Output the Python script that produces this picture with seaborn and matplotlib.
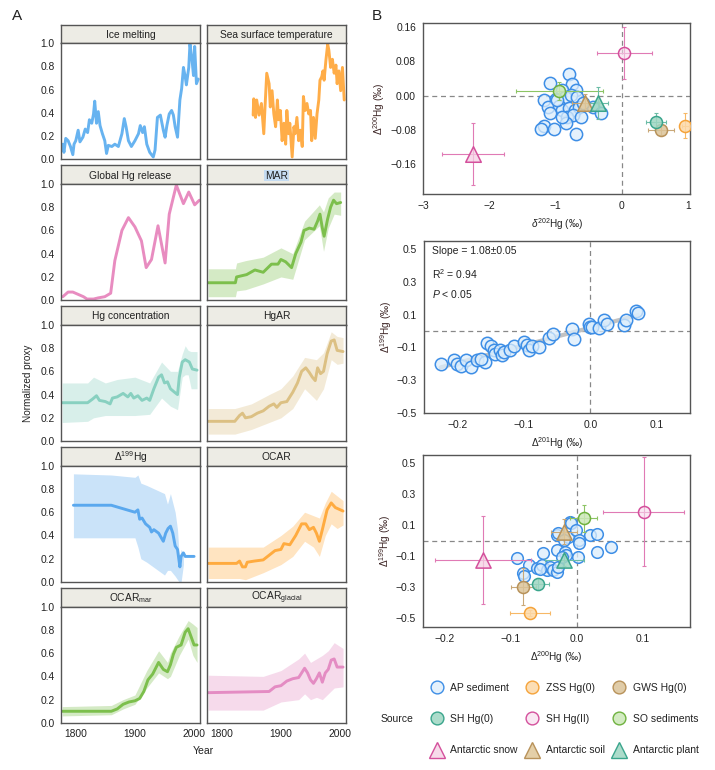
import numpy as np
import pandas as pd
import seaborn as sns
import matplotlib
matplotlib.use("Agg")
import matplotlib.pyplot as plt
from matplotlib.lines import Line2D

sns.set_theme(style="white")
plt.rcParams["font.family"] = ["Liberation Sans", "DejaVu Sans"]
plt.rcParams["mathtext.fontset"] = "custom"
plt.rcParams["mathtext.rm"] = "Liberation Sans"
plt.rcParams["mathtext.it"] = "Liberation Sans:italic"
plt.rcParams["mathtext.bf"] = "Liberation Sans:bold"
plt.rcParams["axes.unicode_minus"] = True

# ---------------- Panel A data ----------------
ice_year = [1778, 1780, 1783, 1787, 1791, 1795, 1797, 1800, 1804, 1807, 1812, 1816, 1820, 1823, 1827, 1830,
            1832, 1835, 1838, 1841, 1845, 1849, 1852, 1855, 1861, 1866, 1872, 1878, 1882, 1885, 1889, 1894,
            1900, 1906, 1909, 1913, 1916, 1920, 1925, 1931, 1934, 1938, 1943, 1948, 1951, 1954, 1958, 1962,
            1965, 1968, 1972, 1976, 1979, 1982, 1985, 1987, 1991, 1993, 1996, 1999, 2001, 2004, 2007]
ice_val = [0.13, 0.06, 0.18, 0.16, 0.11, 0.04, 0.13, 0.16, 0.25, 0.15, 0.19, 0.26, 0.23, 0.34, 0.31, 0.39,
           0.50, 0.31, 0.41, 0.29, 0.22, 0.16, 0.05, 0.12, 0.11, 0.13, 0.11, 0.22, 0.35, 0.28, 0.16, 0.11,
           0.16, 0.22, 0.29, 0.23, 0.28, 0.13, 0.06, 0.02, 0.08, 0.36, 0.38, 0.25, 0.19, 0.29, 0.39, 0.42,
           0.38, 0.28, 0.19, 0.51, 0.61, 0.79, 0.71, 0.64, 0.79, 0.99, 0.88, 0.72, 0.97, 0.65, 0.69]

sst_year = [1853, 1854, 1857, 1859, 1863, 1867, 1871, 1873, 1876, 1880, 1882, 1885, 1888, 1891, 1894, 1896,
            1899, 1902, 1905, 1908, 1910, 1913, 1915, 1919, 1922, 1924, 1927, 1930, 1933, 1936, 1938, 1941,
            1944, 1947, 1950, 1952, 1955, 1958, 1961, 1964, 1966, 1969, 1971, 1973, 1976, 1979, 1981, 1984,
            1987, 1990, 1993, 1995, 1998, 2001, 2004, 2007]
sst_val = [0.38, 0.52, 0.36, 0.51, 0.38, 0.48, 0.22, 0.44, 0.74, 0.65, 0.45, 0.59, 0.39, 0.28, 0.51, 0.34,
           0.42, 0.16, 0.31, 0.13, 0.42, 0.22, 0.31, 0.02, 0.28, 0.22, 0.36, 0.16, 0.25, 0.11, 0.54, 0.42,
           0.48, 0.39, 0.42, 0.16, 0.36, 0.18, 0.39, 0.51, 0.68, 0.71, 0.76, 0.68, 0.85, 0.99, 0.94, 0.79,
           0.86, 0.74, 0.81, 0.65, 0.76, 0.59, 0.79, 0.51]

ghg_year = [1778, 1787, 1795, 1804, 1813, 1819, 1830, 1838, 1849, 1859, 1866, 1878, 1889, 1900, 1911, 1919,
            1928, 1939, 1951, 1958, 1970, 1982, 1991, 2001, 2009]
ghg_val = [0.03, 0.07, 0.07, 0.05, 0.03, 0.01, 0.01, 0.02, 0.03, 0.06, 0.34, 0.60, 0.71, 0.63, 0.51, 0.28,
           0.35, 0.64, 0.32, 0.74, 0.99, 0.83, 0.93, 0.82, 0.86]

mar_year = [1777, 1823, 1825, 1842, 1856, 1870, 1884, 1895, 1900, 1908, 1918, 1925, 1934, 1939, 1948, 1956,
            1962, 1966, 1970, 1973, 1979, 1984, 1989, 1994, 2001]
mar_val = [0.15, 0.15, 0.20, 0.22, 0.26, 0.24, 0.31, 0.31, 0.35, 0.33, 0.28, 0.40, 0.50, 0.60, 0.62, 0.61,
           0.68, 0.74, 0.62, 0.55, 0.70, 0.80, 0.86, 0.83, 0.84]
mar_band_year = [1777, 1823, 1825, 1840, 1870, 1900, 1920, 1940, 1965, 1972, 1980, 1990, 2001]
mar_lo = [0.03, 0.03, 0.08, 0.09, 0.14, 0.20, 0.18, 0.52, 0.64, 0.42, 0.62, 0.74, 0.73]
mar_hi = [0.27, 0.27, 0.32, 0.34, 0.37, 0.45, 0.40, 0.68, 0.82, 0.76, 0.88, 0.93, 0.93]

hgc_year = [1777, 1820, 1828, 1835, 1840, 1850, 1858, 1862, 1870, 1880, 1888, 1893, 1898, 1905, 1912, 1920,
            1925, 1932, 1940, 1945, 1950, 1955, 1960, 1967, 1972, 1975, 1980, 1985, 1992, 1997, 2005]
hgc_val = [0.33, 0.33, 0.36, 0.39, 0.35, 0.34, 0.32, 0.37, 0.38, 0.41, 0.38, 0.41, 0.37, 0.39, 0.35, 0.37,
           0.35, 0.45, 0.55, 0.57, 0.50, 0.51, 0.45, 0.42, 0.40, 0.55, 0.68, 0.70, 0.68, 0.62, 0.61]
hgc_band_year = [1777, 1820, 1830, 1850, 1870, 1900, 1925, 1945, 1960, 1972, 1980, 1985, 1990, 1995, 2005]
hgc_lo = [0.16, 0.17, 0.20, 0.22, 0.22, 0.22, 0.23, 0.37, 0.30, 0.27, 0.55, 0.57, 0.57, 0.45, 0.45]
hgc_hi = [0.50, 0.50, 0.55, 0.50, 0.53, 0.55, 0.50, 0.68, 0.60, 0.60, 0.75, 0.82, 0.78, 0.77, 0.77]

hgar_year = [1777, 1822, 1830, 1835, 1840, 1850, 1860, 1870, 1880, 1888, 1893, 1900, 1910, 1920, 1928, 1935,
             1942, 1948, 1953, 1958, 1962, 1967, 1972, 1978, 1985, 1990, 1995, 2005]
hgar_val = [0.17, 0.17, 0.22, 0.24, 0.20, 0.21, 0.24, 0.26, 0.30, 0.32, 0.29, 0.33, 0.34, 0.42, 0.50, 0.60,
            0.63, 0.59, 0.55, 0.52, 0.63, 0.58, 0.60, 0.75, 0.86, 0.87, 0.78, 0.77]
hgar_band_year = [1777, 1822, 1850, 1880, 1900, 1920, 1940, 1960, 1972, 1985, 1995, 2005]
hgar_lo = [0.06, 0.06, 0.10, 0.16, 0.20, 0.28, 0.45, 0.35, 0.45, 0.70, 0.66, 0.67]
hgar_hi = [0.28, 0.28, 0.32, 0.40, 0.45, 0.56, 0.72, 0.70, 0.76, 0.94, 0.90, 0.89]

d199_year = [1796, 1860, 1880, 1900, 1905, 1908, 1912, 1918, 1925, 1928, 1932, 1940, 1948, 1952, 1956, 1960,
             1964, 1968, 1972, 1976, 1978, 1982, 1985, 2000]
d199_val = [0.66, 0.66, 0.63, 0.60, 0.62, 0.54, 0.55, 0.50, 0.47, 0.43, 0.45, 0.42, 0.35, 0.42, 0.46, 0.48,
            0.42, 0.31, 0.28, 0.13, 0.22, 0.25, 0.22, 0.22]
d199_band_year = [1796, 1860, 1900, 1905, 1910, 1920, 1950, 1955, 1960, 1968, 1972, 1975, 1978, 1982]
d199_lo = [0.38, 0.38, 0.38, 0.30, 0.20, 0.17, 0.06, 0.10, 0.10, 0.05, 0.02, 0.00, 0.00, 0.15]
d199_hi = [0.93, 0.92, 0.90, 0.92, 0.85, 0.83, 0.76, 0.67, 0.76, 0.60, 0.45, 0.20, 0.28, 0.25]

ocar_year = [1777, 1825, 1830, 1835, 1840, 1843, 1855, 1870, 1880, 1890, 1900, 1905, 1915, 1925, 1935, 1942,
             1948, 1955, 1960, 1965, 1970, 1978, 1985, 1992, 2005]
ocar_val = [0.16, 0.16, 0.18, 0.13, 0.13, 0.17, 0.18, 0.19, 0.23, 0.27, 0.28, 0.33, 0.32, 0.40, 0.50, 0.50,
            0.45, 0.47, 0.42, 0.35, 0.45, 0.62, 0.68, 0.64, 0.61]
ocar_band_year = [1777, 1830, 1840, 1870, 1900, 1920, 1940, 1955, 1965, 1975, 1985, 1995, 2005]
ocar_lo = [0.03, 0.03, 0.02, 0.08, 0.15, 0.22, 0.35, 0.30, 0.22, 0.40, 0.50, 0.46, 0.49]
ocar_hi = [0.30, 0.30, 0.30, 0.30, 0.40, 0.48, 0.60, 0.57, 0.55, 0.68, 0.78, 0.74, 0.70]

ocm_year = [1777, 1860, 1870, 1880, 1890, 1900, 1908, 1915, 1922, 1930, 1940, 1948, 1955, 1960, 1965, 1970,
            1978, 1985, 1990, 1995, 2000, 2005]
ocm_val = [0.10, 0.10, 0.12, 0.16, 0.18, 0.19, 0.21, 0.27, 0.37, 0.42, 0.52, 0.46, 0.44, 0.50, 0.59, 0.65,
           0.67, 0.78, 0.81, 0.74, 0.67, 0.67]
ocm_band_year = [1777, 1860, 1880, 1900, 1920, 1940, 1955, 1960, 1975, 1990, 1998, 2005]
ocm_lo = [0.06, 0.07, 0.12, 0.16, 0.30, 0.43, 0.38, 0.40, 0.58, 0.72, 0.58, 0.52]
ocm_hi = [0.14, 0.15, 0.20, 0.24, 0.45, 0.62, 0.52, 0.60, 0.75, 0.88, 0.85, 0.82]

ocg_year = [1777, 1880, 1890, 1900, 1910, 1920, 1930, 1940, 1945, 1950, 1955, 1960, 1965, 1970, 1975, 1980,
            1985, 1990, 1995, 2005]
ocg_val = [0.26, 0.27, 0.31, 0.32, 0.36, 0.38, 0.39, 0.47, 0.43, 0.37, 0.34, 0.38, 0.43, 0.35, 0.43, 0.46,
           0.54, 0.55, 0.48, 0.48]
ocg_band_year = [1777, 1870, 1900, 1930, 1940, 1950, 1960, 1970, 1980, 1990, 2005]
ocg_lo = [0.11, 0.11, 0.18, 0.20, 0.25, 0.20, 0.22, 0.20, 0.25, 0.30, 0.31]
ocg_hi = [0.41, 0.40, 0.45, 0.55, 0.60, 0.52, 0.55, 0.58, 0.62, 0.69, 0.64]

panel_titles = ["Ice melting", "Sea surface temperature", "Global Hg release", "MAR",
                "Hg concentration", "HgAR", r"$\Delta^{199}$Hg", "OCAR",
                r"OCAR$_{\mathrm{mar}}$", r"OCAR$_{\mathrm{glacial}}$"]
year_ticks = [1800, 1900, 2000]
proxy_ticks = [0.0, 0.2, 0.4, 0.6, 0.8, 1.0]

# ---------------- Panel B data ----------------
ap_d202 = [-0.80, -1.08, -0.75, -0.90, -0.69, -1.17, -1.00, -0.85, -0.77, -0.67, -1.12, -0.95, -0.90, -0.80,
           -0.71, -0.64, -1.08, -0.83, -0.74, -0.61, -0.44, -0.32, -1.17, -1.22, -1.02, -0.84, -0.69, -0.90,
           -0.59, -0.97]
ap_d200_top = [0.050, 0.030, 0.028, 0.014, 0.013, -0.009, -0.007, -0.004, 0.001, -0.003, -0.027, -0.024,
               -0.034, -0.030, -0.034, -0.026, -0.041, -0.050, -0.045, -0.049, -0.026, -0.040, -0.070, -0.079,
               -0.079, -0.063, -0.090, -0.049, -0.018, -0.010]

ap_d201 = [-0.225, -0.205, -0.200, -0.195, -0.187, -0.180, -0.170, -0.158, -0.156, -0.150, -0.145, -0.143,
           -0.136, -0.133, -0.130, -0.120, -0.114, -0.100, -0.095, -0.0925, -0.0875, -0.0775, -0.0625, -0.056,
           -0.0275, -0.025, -0.0025, -0.001, 0.0025, 0.0125, 0.020, 0.025, 0.050, 0.0535, 0.069, 0.0715, -0.165]
ap_d199_mid = [-0.199, -0.174, -0.199, -0.213, -0.178, -0.219, -0.174, -0.188, -0.072, -0.093, -0.117, -0.137,
               -0.113, -0.148, -0.127, -0.117, -0.093, -0.066, -0.087, -0.117, -0.093, -0.100, -0.040, -0.015,
               0.015, -0.046, 0.042, 0.025, 0.025, 0.021, 0.066, 0.046, 0.036, 0.066, 0.123, 0.111, -0.168]

ap_d200 = [-0.091, -0.073, -0.082, -0.080, -0.061, -0.053, -0.051, -0.046, -0.041, -0.036, -0.030, -0.029,
           -0.030, -0.031, -0.028, -0.018, -0.016, -0.011, -0.009, -0.013, -0.001, 0.0025, 0.0025, 0.001,
           0.020, 0.031, 0.030, 0.051, -0.023, -0.056, -0.020]
ap_d199 = [-0.115, -0.157, -0.211, -0.228, -0.179, -0.157, -0.082, -0.190, -0.168, -0.190, -0.200, -0.168,
           -0.061, 0.035, 0.046, -0.072, -0.093, 0.121, 0.110, 0.025, 0.067, 0.003, -0.018, -0.104,
           0.035, 0.042, -0.072, -0.040, -0.104, -0.185, 0.003]

src_names = ["ZSS Hg(0)", "GWS Hg(0)", "SH Hg(0)", "SH Hg(II)", "SO sediments",
             "Antarctic snow", "Antarctic soil", "Antarctic plant"]
src_top_x = [0.96, 0.59, 0.52, 0.04, -0.94, -2.25, -0.55, -0.36]
src_top_y = [-0.070, -0.080, -0.061, 0.100, 0.011, -0.136, -0.017, -0.017]
src_top_xerr = [0.05, 0.20, 0.15, 0.41, 0.65, 0.47, 0.20, 0.15]
src_top_yerr = [0.030, 0.012, 0.020, 0.060, 0.020, 0.072, 0.020, 0.038]
src_bot_x = [-0.071, -0.081, -0.059, 0.101, 0.010, -0.142, -0.020, -0.019]
src_bot_y = [-0.468, -0.297, -0.279, 0.185, 0.142, -0.125, 0.057, -0.125]
src_bot_xerr = [0.030, 0.019, 0.017, 0.061, 0.020, 0.073, 0.020, 0.030]
src_bot_yerr = [0.020, 0.120, 0.040, 0.350, 0.085, 0.280, 0.080, 0.040]

# ---------------- styles ----------------
W, H = 715, 770
fig = plt.figure(figsize=(W / 100, H / 100), dpi=100)


def box(x0, y0, x1, y1):
    return [x0 / W, 1 - y1 / H, (x1 - x0) / W, (y1 - y0) / H]


FR = "#555555"
TXT = "#222222"

a_series = [
    (ice_year, ice_val, "#67b3f0", None),
    (sst_year, sst_val, "#ffad48", None),
    (ghg_year, ghg_val, "#e88cc0", None),
    (mar_year, mar_val, "#7cbf4c", (mar_band_year, mar_lo, mar_hi)),
    (hgc_year, hgc_val, "#88d0c0", (hgc_band_year, hgc_lo, hgc_hi)),
    (hgar_year, hgar_val, "#dcc083", (hgar_band_year, hgar_lo, hgar_hi)),
    (d199_year, d199_val, "#5aa8ee", (d199_band_year, d199_lo, d199_hi)),
    (ocar_year, ocar_val, "#ffab3f", (ocar_band_year, ocar_lo, ocar_hi)),
    (ocm_year, ocm_val, "#7cbf4c", (ocm_band_year, ocm_lo, ocm_hi)),
    (ocg_year, ocg_val, "#e48cc3", (ocg_band_year, ocg_lo, ocg_hi)),
]

cols = [(61, 200), (207, 346)]
for k, (yr, vals, col, band) in enumerate(a_series):
    i, j = divmod(k, 2)
    top = 43 + i * 140.9
    bot = top + 116.3
    x0, x1 = cols[j]
    sax = fig.add_axes(box(x0, top - 18.5, x1, top))
    sax.set_facecolor("#edece5")
    sax.set_xticks([]); sax.set_yticks([])
    for s in sax.spines.values():
        s.set_color(FR); s.set_linewidth(1)
    tkw = dict(ha="center", va="center", fontsize=7.4, color=TXT, transform=sax.transAxes)
    if panel_titles[k] == "MAR":
        tkw["bbox"] = dict(facecolor="#c5dcf2", edgecolor="none", pad=0.6)
    sax.text(0.5, 0.45, panel_titles[k], **tkw)

    ax = fig.add_axes(box(x0, top, x1, bot))
    if band is not None:
        ax.fill_between(band[0], band[1], band[2], color=col, alpha=0.32, linewidth=0)
    df = pd.DataFrame({"Year": yr, "v": vals})
    sns.lineplot(data=df, x="Year", y="v", ax=ax, color=col, linewidth=2.1)
    ax.set_xlim(1775, 2010)
    ax.set_ylim(0, 1.0)
    ax.set_xlabel(""); ax.set_ylabel("")
    for s in ax.spines.values():
        s.set_color(FR); s.set_linewidth(1)
    ax.set_xticks(year_ticks)
    ax.set_yticks(proxy_ticks)
    ax.tick_params(axis="both", direction="out", length=3, width=0.8, color="#333333",
                   labelsize=7.4, labelcolor=TXT, pad=1.5)
    if i < 4:
        ax.tick_params(axis="x", bottom=False, labelbottom=False)
    if j == 1:
        ax.tick_params(axis="y", left=False, labelleft=False)
    else:
        ax.set_yticklabels([f"{t:.1f}" for t in proxy_ticks])

fig.text(12 / W, 1 - 16 / H, "A", fontsize=11, color=TXT, ha="left", va="center")
fig.text(372 / W, 1 - 16 / H, "B", fontsize=11, color=TXT, ha="left", va="center")
fig.text(28 / W, 1 - 383 / H, "Normalized proxy", rotation=90, fontsize=7.2, color=TXT,
         ha="center", va="center")
fig.text(203 / W, 1 - 751 / H, "Year", fontsize=7.5, color=TXT, ha="center", va="center")

# ---------------- Panel B ----------------
AP_EDGE = "#3d8ee6"
AP_FACE = (0.86, 0.93, 0.99, 0.75)
src_edge = ["#f5a33a", "#b8925a", "#3aa58c", "#d4509c", "#6fb23f", "#d4509c", "#b8925a", "#3aa58c"]
src_face = [(0.99, 0.85, 0.66, 0.85), (0.86, 0.77, 0.60, 0.85), (0.62, 0.84, 0.76, 0.85),
            (0.97, 0.85, 0.92, 0.6), (0.80, 0.91, 0.72, 0.85), (0.96, 0.81, 0.89, 0.75),
            (0.88, 0.78, 0.60, 0.85), (0.62, 0.84, 0.76, 0.85)]
src_err = ["#f7b866", "#c9a878", "#6cbca6", "#e07ab5", "#8cc464", "#e07ab5", "#c9a878", "#6cbca6"]
src_marker = ["o", "o", "o", "o", "o", "^", "^", "^"]


def style_b(ax):
    for s in ax.spines.values():
        s.set_color(FR); s.set_linewidth(1)
    ax.tick_params(axis="both", direction="out", length=3, width=0.8, color="#333333",
                   labelsize=7.4, labelcolor=TXT, pad=2)
    ax.axhline(0, color="#888888", lw=0.9, ls=(0, (4, 3)), zorder=0)
    ax.axvline(0, color="#888888", lw=0.9, ls=(0, (4, 3)), zorder=0)


def draw_sources(ax, xs, ys, xe, ye, s_circ, s_tri):
    for n in range(len(src_names)):
        ax.errorbar(xs[n], ys[n], xerr=xe[n], yerr=ye[n], fmt="none", ecolor=src_err[n],
                    elinewidth=0.8, capsize=1.5, capthick=0.8, zorder=3)
        sns.scatterplot(x=[xs[n]], y=[ys[n]], ax=ax, marker=src_marker[n],
                        s=(s_tri if src_marker[n] == "^" else s_circ),
                        color=src_face[n], edgecolor=src_edge[n], linewidth=1.1, zorder=4)


# top
ax1 = fig.add_axes(box(423, 23, 690, 194))
style_b(ax1)
sns.scatterplot(x=ap_d202, y=ap_d200_top, ax=ax1, s=78, color=AP_FACE, edgecolor=AP_EDGE,
                linewidth=1.1, zorder=2)
draw_sources(ax1, src_top_x, src_top_y, src_top_xerr, src_top_yerr, 75, 125)
ax1.set_xlim(-3, 1.03)
ax1.set_ylim(-0.23, 0.17)
ax1.set_xticks([-3, -2, -1, 0, 1])
ax1.set_yticks([-0.16, -0.08, 0.0, 0.08, 0.16])
ax1.set_xlabel(r"$\delta^{202}$Hg (‰)", fontsize=7.2, color=TXT)
ax1.set_ylabel(r"$\Delta^{200}$Hg (‰)", fontsize=7.2, color="#3a2222", labelpad=2)

# middle
ax2 = fig.add_axes(box(424, 241, 690, 413))
style_b(ax2)
sns.regplot(x=np.array(ap_d201), y=np.array(ap_d199_mid), ax=ax2, scatter=False, ci=None,
            line_kws=dict(color="#c2c2c2", lw=3.0, zorder=1))
sns.scatterplot(x=ap_d201, y=ap_d199_mid, ax=ax2, s=80, color=AP_FACE, edgecolor=AP_EDGE,
                linewidth=1.1, zorder=2)
ax2.set_xlim(-0.25, 0.15)
ax2.set_ylim(-0.5, 0.55)
ax2.set_xticks([-0.2, -0.1, 0.0, 0.1])
ax2.set_yticks([-0.5, -0.3, -0.1, 0.1, 0.3, 0.5])
ax2.set_xlabel(r"$\Delta^{201}$Hg (‰)", fontsize=7.2, color=TXT)
ax2.set_ylabel(r"$\Delta^{199}$Hg (‰)", fontsize=7.2, color="#3a2222", labelpad=2)
ax2.text(0.03, 0.94, "Slope = 1.08±0.05", transform=ax2.transAxes, fontsize=7.5, color=TXT,
         ha="left", va="center")
ax2.text(0.03, 0.81, r"R$^2$ = 0.94", transform=ax2.transAxes, fontsize=7.5, color=TXT,
         ha="left", va="center")
ax2.text(0.03, 0.69, r"$P$ < 0.05", transform=ax2.transAxes, fontsize=7.5, color=TXT,
         ha="left", va="center")

# bottom
ax3 = fig.add_axes(box(423, 455, 690, 627))
style_b(ax3)
sns.scatterplot(x=ap_d200, y=ap_d199, ax=ax3, s=70, color=AP_FACE, edgecolor=AP_EDGE,
                linewidth=1.1, zorder=2)
draw_sources(ax3, src_bot_x, src_bot_y, src_bot_xerr, src_bot_yerr, 75, 120)
ax3.set_xlim(-0.233, 0.171)
ax3.set_ylim(-0.556, 0.55)
ax3.set_xticks([-0.2, -0.1, 0.0, 0.1])
ax3.set_yticks([-0.5, -0.3, -0.1, 0.1, 0.3, 0.5])
ax3.set_xlabel(r"$\Delta^{200}$Hg (‰)", fontsize=7.2, color=TXT)
ax3.set_ylabel(r"$\Delta^{199}$Hg (‰)", fontsize=7.2, color="#3a2222", labelpad=2)

# legend
leg_labels = ["AP sediment"] + src_names
leg_edges = [AP_EDGE] + src_edge
leg_faces = [AP_FACE] + src_face
leg_markers = ["o"] + src_marker
handles = []
for lab, e, f, m in zip(leg_labels, leg_edges, leg_faces, leg_markers):
    handles.append(Line2D([], [], linestyle="none", marker=m, markersize=(12 if m == "^" else 9.2),
                          markerfacecolor=f, markeredgecolor=e, markeredgewidth=1.0, label=lab))
order = [0, 3, 6, 1, 4, 7, 2, 5, 8]
fig.legend([handles[o] for o in order], [leg_labels[o] for o in order], ncol=3,
           loc="center left", bbox_to_anchor=(421 / W, 1 - 719 / H), frameon=False,
           fontsize=7.5, handletextpad=0.3, columnspacing=0.4, labelspacing=2.05,
           borderpad=0, handlelength=2.0, labelcolor=TXT)
fig.text(397 / W, 1 - 719 / H, "Source", fontsize=7.5, color=TXT, ha="center", va="center")

fig.savefig("out.png", dpi=100)
